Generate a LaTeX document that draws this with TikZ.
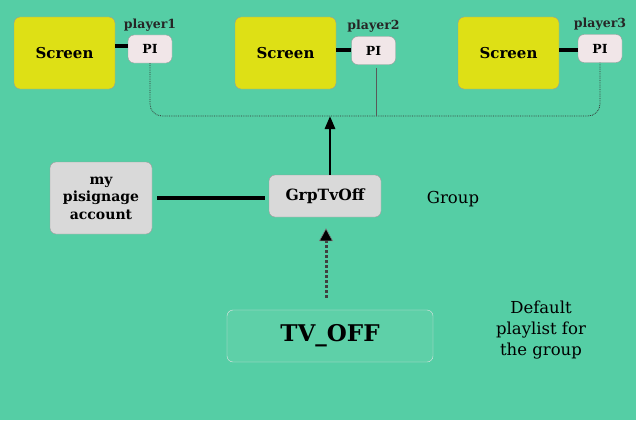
\documentclass[tikz,border=0pt]{standalone}
\usepackage{fontspec}
\setmainfont{DejaVu Serif}
\usetikzlibrary{arrows.meta, positioning, calc}
\definecolor{bggreen}{RGB}{85,206,165}
\definecolor{scryellow}{RGB}{222,224,21}
\definecolor{pipink}{RGB}{241,230,232}
\definecolor{grpgray}{RGB}{217,217,217}
\definecolor{tvgreen}{RGB}{94,208,168}

\begin{document}
\begin{tikzpicture}[
    x=1pt, y=-1pt,
    >=Triangle,
    box/.style={draw=black!40, rounded corners=6pt, align=center, inner sep=0pt,
                font=\bfseries\fontsize{14}{17.5}\selectfont},
    screenbox/.style={box, fill=scryellow, minimum width=101pt, minimum height=72pt,
                font=\bfseries\fontsize{15}{16}\selectfont},
    pibox/.style={box, fill=pipink, minimum width=44pt, minimum height=28pt,
                font=\bfseries\fontsize{12.5}{13}\selectfont},
    grpbox/.style={box, fill=grpgray},
    tvbox/.style={box, draw=black!10, fill=tvgreen, minimum width=206pt, minimum height=52pt,
                font=\bfseries\fontsize{23}{24}\selectfont},
    lbl/.style={font=\bfseries\fontsize{12.5}{13}\selectfont, text=black!85},
    note/.style={font=\fontsize{16.5}{21}\selectfont, align=center},
    link/.style={line width=3.2pt},
]
\useasboundingbox[fill=bggreen] (0,0) rectangle (636,420);
% === Screens and players (top row) ===
\node[screenbox] (scr1) at (64.5,53) {Screen};
\node[screenbox] (scr2) at (285.5,53) {Screen};
\node[screenbox] (scr3) at (508.5,53) {Screen};
\node[pibox] (pi1) at (150,49) {PI};
\node[pibox] (pi2) at (373.5,50.5) {PI};
\node[pibox] (pi3) at (600,48.5) {PI};
\node[lbl, above=0pt of pi1] {player1};
\node[lbl, above=0pt of pi2] {player2};
\node[lbl, above=0pt of pi3] {player3};
\draw[link] (scr1.east |- 0,46) -- (pi1.west |- 0,46);
\draw[link] (scr2.east |- 0,50) -- (pi2.west |- 0,50);
\draw[link] (scr3.east |- 0,50) -- (pi3.west |- 0,50);
% bus joining the players
\coordinate (bus) at (376,116);
\draw[black!80, line width=0.8pt, densely dotted, rounded corners=12pt] (pi1.south) |- (bus) -| (pi3.south);
\draw[black!65, line width=0.8pt] ($(pi2.south)+(2.5,3)$) -- (bus);
% === Group ===
\node[grpbox, minimum width=112pt, minimum height=42pt, font=\bfseries\fontsize{15.5}{16}\selectfont] (grp) at (325,196) {GrpTvOff};
\node[grpbox, minimum width=102pt, minimum height=72pt] (acct) at (101,198) {my\\pisignage\\account};
\node[note] (grplbl) at (453,199) {Group};
\draw[link] (acct.east) ++(5,0) -- ($(grp.west)+(-4,2)$);
\draw[link, line width=2.8pt, -{Triangle[length=13pt, width=10pt]}] (grp.north -| 330,0) -- (bus -| 330,0);
% === Default playlist ===
\node[tvbox] (tv) at (330,336) {TV\_OFF};
\node[note] (tvlbl) at (541,330) {Default\\playlist for\\the group};
\draw[black!75, line width=3pt, dash pattern=on 3pt off 2pt,
    -{Triangle[length=13pt, width=14pt, line width=0.6pt, color=black!50, fill=black]}]
    ($(tv.north -| 326,0)+(0,-12)$) -- ($(grp.south -| 326,0)+(0,11)$);
\end{tikzpicture}
\end{document}
